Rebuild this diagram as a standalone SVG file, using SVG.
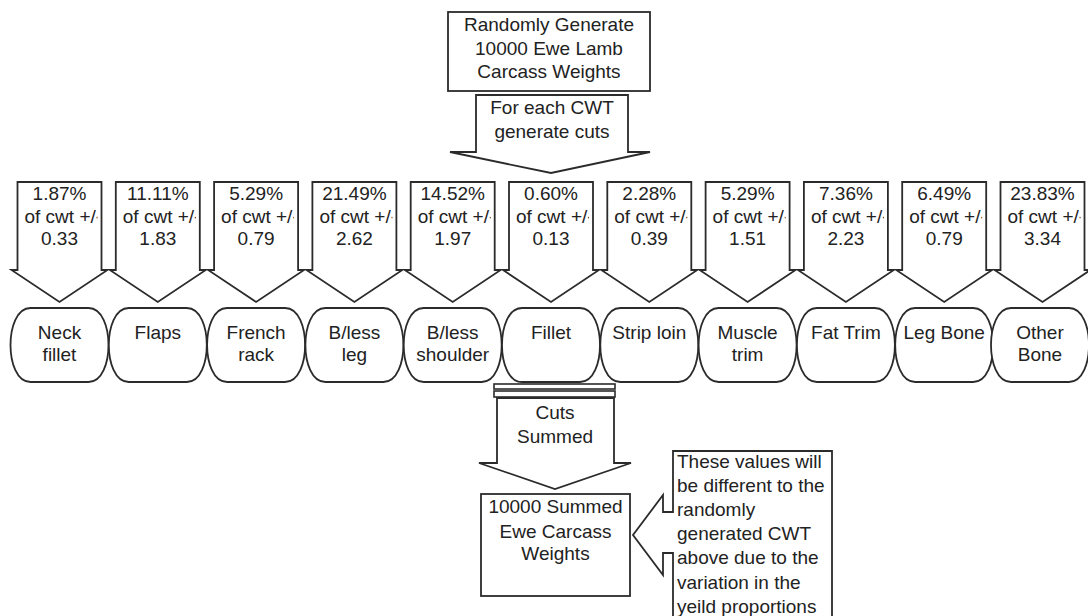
<svg xmlns="http://www.w3.org/2000/svg" xmlns:xlink="http://www.w3.org/1999/xlink" width="1088" height="616" viewBox="0 0 1088 616">
<style>
.shape{fill:#ffffff;stroke:#2b2b2b;stroke-width:1.8;stroke-linejoin:miter}
.t{font-family:"Liberation Sans",Arial,Helvetica,sans-serif;font-size:19px;fill:#222222}
.c{text-anchor:middle}
.bar{fill:#ffffff;stroke:#2b2b2b;stroke-width:1.6}
</style>
<defs>
<path id="cutArrow" d="M-42,0 H42 V88 H48 L0,120 L-48,88 H-42 Z"/>
<path id="cutNode" d="M-29,0 H29 C43,0 49,20 49,37 C49,54 43,74 29,74 H-29 C-43,74 -49,54 -49,37 C-49,20 -43,0 -29,0 Z"/>
<clipPath id="shaftClip"><rect x="-41" y="0" width="79" height="90"/></clipPath>
</defs>
<rect width="1088" height="616" fill="#ffffff"/>

<g id="node-generate">
<rect class="shape" x="448" y="12" width="202" height="79"/>
<text class="t c" x="549" y="31">Randomly Generate</text>
<text class="t c" x="549" y="55">10000 Ewe Lamb</text>
<text class="t c" x="549" y="78">Carcass Weights</text>
</g>

<g id="connectors">
<g id="arrow-generate-cuts">
<path class="shape" d="M476,95 H628 V152 H650 L551,173 L450,152 H476 Z"/>
<text class="t c" x="552" y="114">For each CWT</text>
<text class="t c" x="552" y="138">generate cuts</text>
</g>

<g id="arrow-neck" transform="translate(59.5,182)"><use href="#cutArrow" class="shape"/><g clip-path="url(#shaftClip)"><text class="t c" x="0" y="18">1.87%</text><text class="t" x="-35" y="41">of cwt +/-</text><text class="t c" x="0" y="63">0.33</text></g></g>
<g id="arrow-flaps" transform="translate(157.8,182)"><use href="#cutArrow" class="shape"/><g clip-path="url(#shaftClip)"><text class="t c" x="0" y="18">11.11%</text><text class="t" x="-35" y="41">of cwt +/-</text><text class="t c" x="0" y="63">1.83</text></g></g>
<g id="arrow-french" transform="translate(256.1,182)"><use href="#cutArrow" class="shape"/><g clip-path="url(#shaftClip)"><text class="t c" x="0" y="18">5.29%</text><text class="t" x="-35" y="41">of cwt +/-</text><text class="t c" x="0" y="63">0.79</text></g></g>
<g id="arrow-leg" transform="translate(354.4,182)"><use href="#cutArrow" class="shape"/><g clip-path="url(#shaftClip)"><text class="t c" x="0" y="18">21.49%</text><text class="t" x="-35" y="41">of cwt +/-</text><text class="t c" x="0" y="63">2.62</text></g></g>
<g id="arrow-shoulder" transform="translate(452.7,182)"><use href="#cutArrow" class="shape"/><g clip-path="url(#shaftClip)"><text class="t c" x="0" y="18">14.52%</text><text class="t" x="-35" y="41">of cwt +/-</text><text class="t c" x="0" y="63">1.97</text></g></g>
<g id="arrow-fillet" transform="translate(551,182)"><use href="#cutArrow" class="shape"/><g clip-path="url(#shaftClip)"><text class="t c" x="0" y="18">0.60%</text><text class="t" x="-35" y="41">of cwt +/-</text><text class="t c" x="0" y="63">0.13</text></g></g>
<g id="arrow-striploin" transform="translate(649.3,182)"><use href="#cutArrow" class="shape"/><g clip-path="url(#shaftClip)"><text class="t c" x="0" y="18">2.28%</text><text class="t" x="-35" y="41">of cwt +/-</text><text class="t c" x="0" y="63">0.39</text></g></g>
<g id="arrow-muscle" transform="translate(747.6,182)"><use href="#cutArrow" class="shape"/><g clip-path="url(#shaftClip)"><text class="t c" x="0" y="18">5.29%</text><text class="t" x="-35" y="41">of cwt +/-</text><text class="t c" x="0" y="63">1.51</text></g></g>
<g id="arrow-fat" transform="translate(845.9,182)"><use href="#cutArrow" class="shape"/><g clip-path="url(#shaftClip)"><text class="t c" x="0" y="18">7.36%</text><text class="t" x="-35" y="41">of cwt +/-</text><text class="t c" x="0" y="63">2.23</text></g></g>
<g id="arrow-legbone" transform="translate(944.2,182)"><use href="#cutArrow" class="shape"/><g clip-path="url(#shaftClip)"><text class="t c" x="0" y="18">6.49%</text><text class="t" x="-35" y="41">of cwt +/-</text><text class="t c" x="0" y="63">0.79</text></g></g>
<g id="arrow-otherbone" transform="translate(1042.5,182)"><use href="#cutArrow" class="shape"/><g clip-path="url(#shaftClip)"><text class="t c" x="0" y="18">23.83%</text><text class="t" x="-35" y="41">of cwt +/-</text><text class="t c" x="0" y="63">3.34</text></g></g>

<g id="arrow-summed">
<rect class="bar" x="494" y="384" width="121" height="5"/>
<rect class="bar" x="494" y="391" width="121" height="6"/>
<path class="shape" d="M497,398 H614 V463 H631 L555,489 L479,463 H497 Z"/>
<text class="t c" x="555" y="419">Cuts</text>
<text class="t c" x="555" y="443">Summed</text>
</g>
</g>

<g id="node-neck" transform="translate(59.5,308)"><use href="#cutNode" class="shape"/><text class="t c" x="0" y="31">Neck</text><text class="t c" x="0" y="53">fillet</text></g>
<g id="node-flaps" transform="translate(157.8,308)"><use href="#cutNode" class="shape"/><text class="t c" x="0" y="31">Flaps</text></g>
<g id="node-french" transform="translate(256.1,308)"><use href="#cutNode" class="shape"/><text class="t c" x="0" y="31">French</text><text class="t c" x="0" y="53">rack</text></g>
<g id="node-leg" transform="translate(354.4,308)"><use href="#cutNode" class="shape"/><text class="t c" x="0" y="31">B/less</text><text class="t c" x="0" y="53">leg</text></g>
<g id="node-shoulder" transform="translate(452.7,308)"><use href="#cutNode" class="shape"/><text class="t c" x="0" y="31">B/less</text><text class="t c" x="0" y="53">shoulder</text></g>
<g id="node-fillet" transform="translate(551,308)"><use href="#cutNode" class="shape"/><text class="t c" x="0" y="31">Fillet</text></g>
<g id="node-striploin" transform="translate(649.3,308)"><use href="#cutNode" class="shape"/><text class="t c" x="0" y="31">Strip loin</text></g>
<g id="node-muscle" transform="translate(747.6,308)"><use href="#cutNode" class="shape"/><text class="t c" x="0" y="31">Muscle</text><text class="t c" x="0" y="53">trim</text></g>
<g id="node-fat" transform="translate(845.9,308)"><use href="#cutNode" class="shape"/><text class="t c" x="0" y="31">Fat Trim</text></g>
<g id="node-legbone" transform="translate(944.2,308)"><use href="#cutNode" class="shape"/><text class="t c" x="0" y="31">Leg Bone</text></g>
<g id="node-otherbone" transform="translate(1040,308)"><use href="#cutNode" class="shape"/><text class="t c" x="0" y="31">Other</text><text class="t c" x="0" y="53">Bone</text></g>

<g id="node-summed">
<rect class="shape" x="481" y="494" width="149" height="102"/>
<text class="t c" x="555.5" y="513">10000 Summed</text>
<text class="t c" x="555.5" y="538">Ewe Carcass</text>
<text class="t c" x="555.5" y="560">Weights</text>
</g>

<g id="node-note">
<path class="shape" d="M673,451 H832 V620 H673 V553 H663 V575 L633,535 L663,495 V512 H673 Z"/>
<text class="t" x="677" y="468">These values will</text>
<text class="t" x="677" y="492">be different to the</text>
<text class="t" x="677" y="516">randomly</text>
<text class="t" x="677" y="540">generated CWT</text>
<text class="t" x="677" y="564">above due to the</text>
<text class="t" x="677" y="589">variation in the</text>
<text class="t" x="677" y="613">yeild proportions</text>
</g>
</svg>
